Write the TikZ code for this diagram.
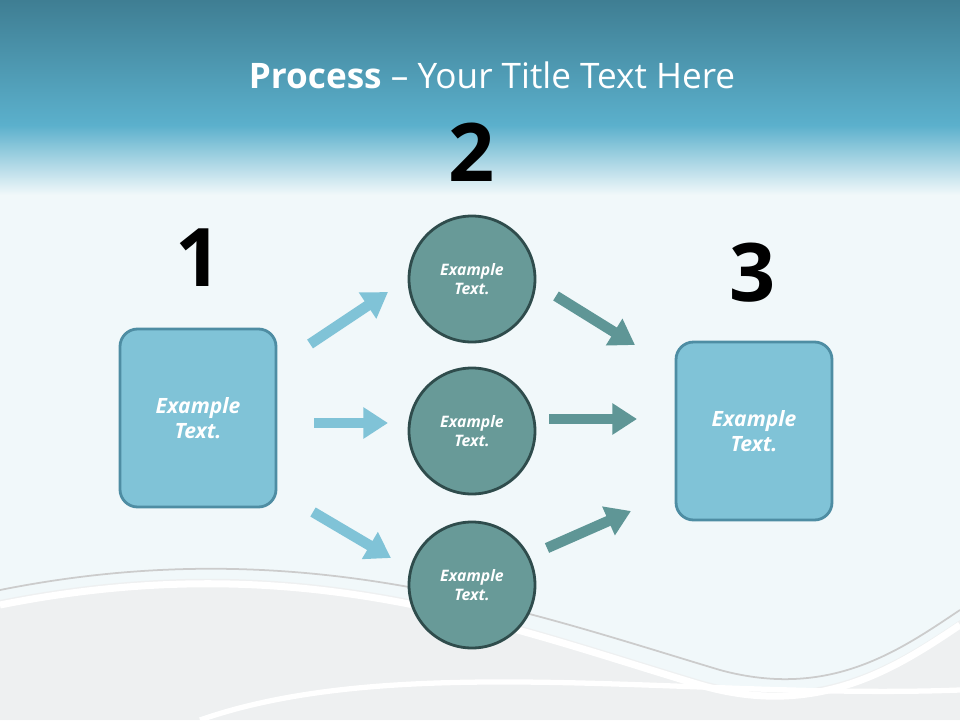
\documentclass[tikz,border=0pt]{standalone}
\usepackage{fontspec}
\setmainfont{Open Sans}
\usetikzlibrary{arrows.meta}
\definecolor{boxc}{HTML}{80C3D7}
\definecolor{boxb}{HTML}{4E8DA3}
\definecolor{circf}{HTML}{689A98}
\definecolor{circb}{HTML}{2F4C4C}
\definecolor{arrt}{HTML}{5F9696}
\definecolor{bg}{HTML}{F1F8FA}
\definecolor{hdtop}{HTML}{3F7E93}
\definecolor{hdbot}{HTML}{5BB0CC}
\tikzset{
 rbox/.style={draw=boxb,fill=boxc,line width=1.6pt,rounded corners=10pt,minimum width=156*0.02cm,minimum height=178*0.02cm,text=white,font=\bfseries\itshape\large,align=center},
 circ/.style={circle,draw=circb,fill=circf,line width=1.6pt,minimum size=126*0.02cm,text=white,font=\bfseries\itshape\small,align=center},
 num/.style={font=\fontsize{46}{50}\selectfont\bfseries},
 larr/.style={line width=6pt,draw=boxc,-{Triangle[length=14pt,width=17pt]}},
 tarr/.style={line width=6pt,draw=arrt,-{Triangle[length=14pt,width=17pt]}},
}
\begin{document}
\begin{tikzpicture}[x=0.02cm,y=-0.02cm]
\useasboundingbox (0,0) rectangle (960,720);
\fill[bg] (0,0) rectangle (960,720);
\shade[top color=hdtop,bottom color=hdbot] (0,0) rectangle (960,125);
\shade[top color=hdbot,bottom color=bg] (0,125) rectangle (960,195);
% waves
\fill[white!85!gray,opacity=0.6] (0,600) .. controls (300,540) and (500,620) .. (700,680) .. controls (820,715) and (900,660) .. (960,620) -- (960,720) -- (0,720) -- cycle;
\draw[white,line width=4pt] (0,605) .. controls (300,545) and (500,625) .. (700,685) .. controls (820,720) and (900,665) .. (960,625);
\draw[gray!40,line width=1pt] (0,590) .. controls (300,530) and (520,610) .. (720,670) .. controls (830,700) and (900,650) .. (960,610);
\draw[white,line width=3pt] (200,720) .. controls (400,650) and (700,700) .. (960,690);
\node[white,font=\fontsize{20}{24}\selectfont] (title) at (492,75) {\textbf{Process} -- Your Title Text Here};
\node[num] (n1) at (199,258) {1};
\node[num] (n2) at (472,152) {2};
\node[num] (n3) at (753,273) {3};
\node[rbox] (b1) at (198,418) {Example\\Text.};
\node[rbox] (b3) at (754,431) {Example\\Text.};
\node[circ] (c1) at (472,279) {Example\\Text.};
\node[circ] (c2) at (472,431) {Example\\Text.};
\node[circ] (c3) at (472,585) {Example\\Text.};
\coordinate (a1s) at (310,344); \coordinate (a1e) at (388,292);
\coordinate (a2s) at (314,423); \coordinate (a2e) at (388,423);
\coordinate (a3s) at (313,512); \coordinate (a3e) at (391,558);
\coordinate (a4s) at (556,296); \coordinate (a4e) at (635,345);
\coordinate (a5s) at (549,419); \coordinate (a5e) at (637,419);
\coordinate (a6s) at (547,548); \coordinate (a6e) at (631,511);
\draw[larr] (a1s)--(a1e);
\draw[larr] (a2s)--(a2e);
\draw[larr] (a3s)--(a3e);
\draw[tarr] (a4s)--(a4e);
\draw[tarr] (a5s)--(a5e);
\draw[tarr] (a6s)--(a6e);
\end{tikzpicture}
\end{document}
